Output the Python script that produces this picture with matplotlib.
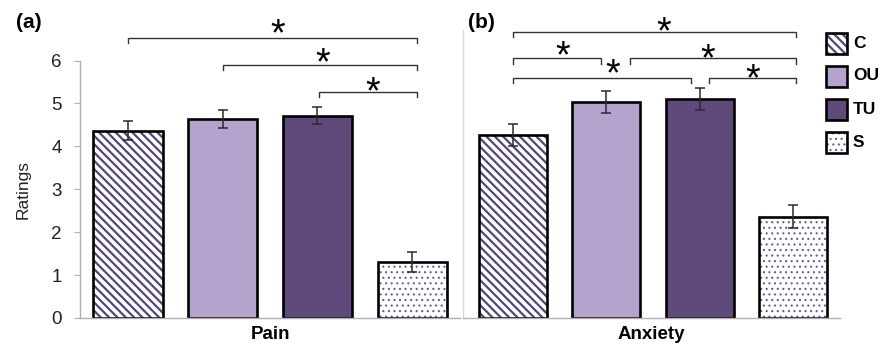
import numpy as np
import matplotlib.pyplot as plt
from matplotlib.patches import Rectangle

plt.rcParams['font.family'] = ['Liberation Sans', 'DejaVu Sans']

groups = ['C', 'OU', 'TU', 'S']
pain = [4.36, 4.63, 4.71, 1.30]
pain_err = [0.22, 0.21, 0.20, 0.23]
anxiety = [4.27, 5.03, 5.10, 2.36]
anxiety_err = [0.26, 0.26, 0.26, 0.27]

# significant pairwise differences
pain_pairs = [('C', 'S'), ('OU', 'S'), ('TU', 'S')]
anxiety_pairs = [('C', 'S'), ('C', 'OU'), ('OU', 'S'), ('C', 'TU'), ('TU', 'S')]

# bar styles: fill colour, hatch, hatch colour, hatch line width
styles = {
    'C': ('white', '\\\\\\\\', '#54467a', 1.6),
    'OU': ('#b4a3cc', None, '#b4a3cc', 1.0),
    'TU': ('#5f4a7c', None, '#5f4a7c', 1.0),
    'S': ('white', '...', '#6c5aa0', 0.8),
}

W, H = 880, 349
fig = plt.figure(figsize=(W / 100, H / 100), dpi=100)

def fx(px):
    return px / W

def fy(py):
    return 1 - py / H

ax1 = fig.add_axes([fx(80), fy(318), (460 - 80) / W, (318 - 60.5) / H])
ax2 = fig.add_axes([fx(463), fy(318), (840 - 463) / W, (318 - 60.5) / H])

def hatched_box(draw, g, **kw):
    face, hatch, hcol, hlw = styles[g]
    with plt.rc_context({'hatch.linewidth': hlw}):
        draw(facecolor=face, hatch=hatch, edgecolor=hcol, linewidth=0, **kw)
    draw(fill=False, edgecolor='black', linewidth=1.9, **kw)

def draw_bars(ax, vals, errs):
    x = np.arange(len(groups))
    for i, g in enumerate(groups):
        hatched_box(lambda **kw: ax.bar(x[i], vals[i], width=0.73, **kw), g, zorder=2)
    ax.errorbar(x, vals, yerr=errs, fmt='none', ecolor='#2a2a2a',
                elinewidth=1.1, capsize=3.3, capthick=1.1, zorder=4)
    ax.set_ylim(0, 6)
    ax.set_xticks([])
    for s in ['top', 'right']:
        ax.spines[s].set_visible(False)
    for s in ['left', 'bottom']:
        ax.spines[s].set_color('#b0b0b0')
        ax.spines[s].set_linewidth(1.0)

def bracket(ax, x0, x1, y, sx, sy, fs=27):
    ax.plot([x0, x0, x1, x1], [y - 0.12, y, y, y - 0.12], color='#333333',
            lw=1.0, clip_on=False, solid_joinstyle='miter')
    ax.annotate('*', (sx, sy), xytext=(0, -0.58 * fs), textcoords='offset points',
                ha='center', va='baseline', fontsize=fs, annotation_clip=False)

draw_bars(ax1, pain, pain_err)
draw_bars(ax2, anxiety, anxiety_err)

ax1.set_xlim(-0.507, 3.506)
ax2.set_xlim(-0.536, 3.505)
ax2.spines['left'].set_color('#d8d8d8')
ax2.spines['left'].set_bounds(0, 6.7)

ax1.set_yticks(range(7))
ax1.tick_params(axis='y', length=4.3, color='#b0b0b0', labelsize=13.5, pad=9,
                labelcolor='#222222')
ax1.set_ylabel('Ratings', fontsize=12.5, labelpad=15, color='#222222')
ax2.set_yticks([])

ax1.set_xlabel('Pain', fontsize=13.5, fontweight='bold', labelpad=6)
ax2.set_xlabel('Anxiety', fontsize=13.5, fontweight='bold', labelpad=6)

# bracket layout, one entry per pair: x0, x1, level, star x, star y
pain_layout = [(0, 3.05, 6.53, 1.58, 6.85),
               (1.0, 3.05, 5.90, 2.06, 6.18),
               (2.02, 3.05, 5.26, 2.58, 5.52)]
anxiety_layout = [(0, 3.03, 6.66, 1.62, 6.91),
                  (0, 0.94, 6.05, 0.53, 6.35),
                  (1.25, 3.03, 6.05, 2.09, 6.29),
                  (0, 1.91, 5.60, 1.07, 5.94),
                  (2.10, 3.03, 5.60, 2.57, 5.81)]
for pair, lay in zip(pain_pairs, pain_layout):
    bracket(ax1, *lay)
for pair, lay in zip(anxiety_pairs, anxiety_layout):
    bracket(ax2, *lay)

fig.text(fx(16), fy(22), '(a)', fontsize=15, fontweight='bold', va='center')
fig.text(fx(468), fy(22), '(b)', fontsize=15, fontweight='bold', va='center')

# legend
for k, g in enumerate(groups):
    cy = 43 + 33 * k
    x0, y0 = fx(826), fy(cy + 10.5)
    w, h = 21 / W, 21 / H
    hatched_box(lambda **kw: fig.add_artist(
        Rectangle((x0, y0), w, h, transform=fig.transFigure, **kw)), g)
    fig.text(fx(853), fy(cy), g, fontsize=12.5, fontweight='bold', va='center')

fig.savefig('out.png', dpi=100)
